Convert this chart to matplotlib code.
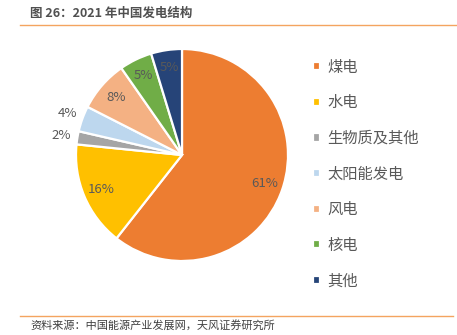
import numpy as np
import matplotlib
matplotlib.use("Agg")
import matplotlib.pyplot as plt
from matplotlib.lines import Line2D

plt.rcParams["font.family"] = ["Noto Sans CJK SC", "DejaVu Sans"]

# 2021 China power generation mix (%)
sources = ["煤电", "水电", "生物质及其他", "太阳能发电", "风电", "核电", "其他"]
shares = [60.6, 16.0, 2.0, 3.9, 7.8, 5.0, 4.7]
colors = ["#ED7D31", "#FFC000", "#A5A5A5", "#BDD7EE", "#F4B183", "#70AD47", "#264478"]

title = "图 26：2021 年中国发电结构"
source_note = "资料来源：中国能源产业发展网，天风证券研究所"

W, H = 457, 335
fig = plt.figure(figsize=(W / 100, H / 100), dpi=100, facecolor="white")

# pie axes: centre ~(182,155) px, radius ~106 px
cx, cy, r = 182, 155, 106
ax = fig.add_axes([(cx - r) / W, (H - cy - r) / H, 2 * r / W, 2 * r / H])
wedges, _ = ax.pie(
    shares,
    colors=colors,
    startangle=90,
    counterclock=False,
    radius=1.0,
    wedgeprops=dict(edgecolor="white", linewidth=1.6),
)
ax.set_xlim(-1, 1)
ax.set_ylim(-1, 1)
ax.set_aspect("equal")
ax.axis("off")

# percentage labels: inside for big slices, outside for small ones
for w, v in zip(wedges, shares):
    ang = np.deg2rad((w.theta1 + w.theta2) / 2)
    dist = 0.83 if v >= 4.5 else 1.15
    ax.text(dist * np.cos(ang), dist * np.sin(ang), f"{v:.0f}%",
            ha="center", va="center", fontsize=9.5, color="#595959",
            clip_on=False)

fig.legend(
    handles=wedges,
    labels=sources,
    loc="upper left",
    bbox_to_anchor=(305 / W, 1 - 51 / H),
    frameon=False,
    fontsize=11,
    labelcolor="#595959",
    handlelength=0.45,
    handleheight=0.45,
    handletextpad=0.5,
    labelspacing=1.22,
    borderpad=0,
)

fig.text(30 / W, 1 - 13 / H, title, ha="left", va="center",
         fontsize=9, fontweight="bold", color="#505050")
fig.add_artist(Line2D([20 / W, 1.0], [1 - 25 / H] * 2, color="#F4A460", linewidth=1.0))
fig.add_artist(Line2D([20 / W, 453 / W], [1 - 316 / H] * 2, color="#F4A460", linewidth=1.0))
fig.text(30 / W, 1 - 325.5 / H, source_note, ha="left", va="center",
         fontsize=8, color="#404040")

fig.savefig("out.png", dpi=100, facecolor="white")
